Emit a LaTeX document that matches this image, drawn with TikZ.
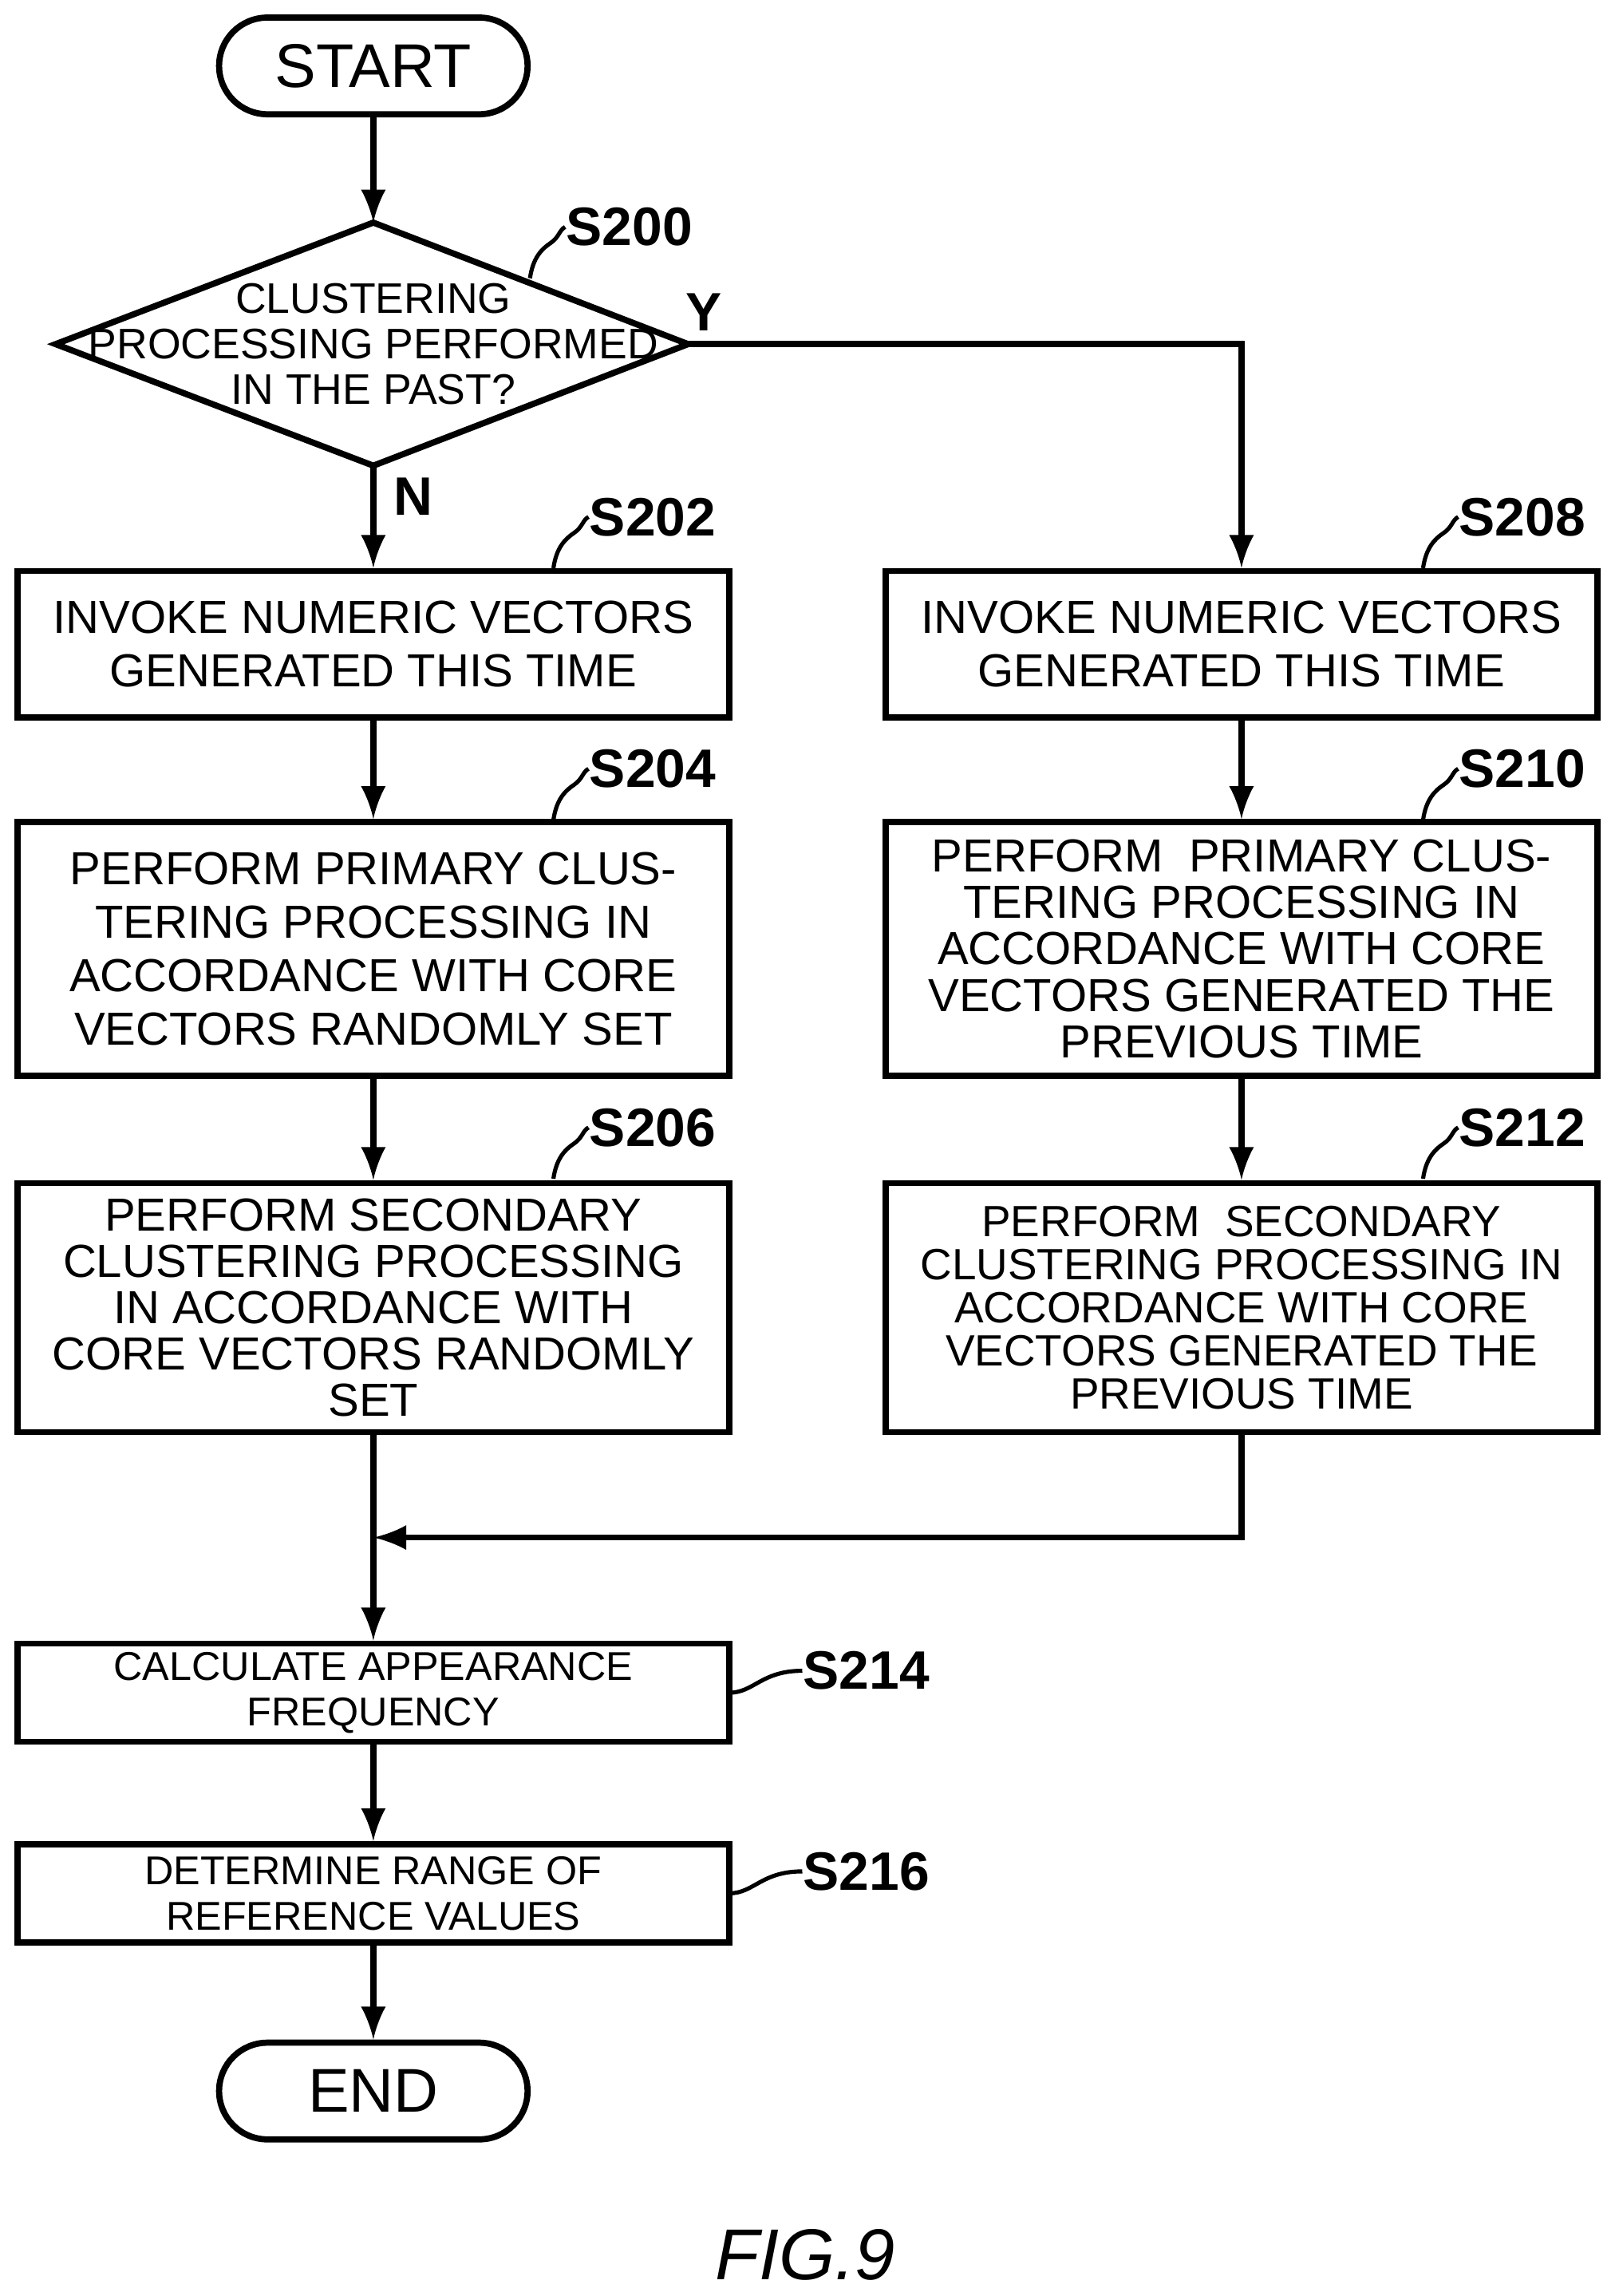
\documentclass[tikz,border=0pt]{standalone}
\usepackage{fontspec}
\setmainfont{Liberation Sans}
\usetikzlibrary{shapes.misc,calc}
\tikzset{
  proc/.style={draw,line width=1.2pt,rectangle,minimum width=4.86cm,align=center,inner sep=0pt,font=\fontsize{9}{10.4}\selectfont},
  term/.style={draw,line width=1.2pt,rounded rectangle,minimum width=2.34cm,minimum height=0.66cm,font=\fontsize{12}{14}\selectfont},
  arr/.style={->,>=latex,line width=1.2pt},
  lbl/.style={font=\bfseries\fontsize{10.5}{12}\selectfont,anchor=west,inner sep=0pt},
}
\newcommand{\squig}[3]{\draw[line width=0.8pt] (#1,#2) .. controls (#1+2,#2-14) and (#1+8,#2-20) .. (#1+14,#2-24) .. controls (#1+20,#2-28) and (#1+20,#2-33) .. (#3);}
\begin{document}
\begin{tikzpicture}[x=0.01cm,y=-0.01cm]
  \useasboundingbox (0,0) rectangle (1103,1568);
  \node[term] (start) at (255,45) {START};
  % decision
  \coordinate (dtop) at (255,152);
  \coordinate (dbot) at (255,318);
  \coordinate (dleft) at (38,235);
  \coordinate (dright) at (470,235);
  \draw[line width=1.2pt] (dtop) -- (dright) -- (dbot) -- (dleft) -- cycle;
  \node[align=center,inner sep=0pt,font=\fontsize{8.3}{8.8}\selectfont] (d200) at (255,235) {CLUSTERING\\PROCESSING PERFORMED\\IN THE PAST?};
  \node[proc,minimum height=1cm] (s202) at (255,440) {INVOKE NUMERIC VECTORS\\GENERATED THIS TIME};
  \node[proc,minimum height=1.73cm] (s204) at (255,648) {PERFORM PRIMARY CLUS-\\TERING PROCESSING IN\\ACCORDANCE WITH CORE\\VECTORS RANDOMLY SET};
  \node[proc,minimum height=1.7cm,font=\fontsize{9}{9}\selectfont] (s206) at (255,893) {PERFORM SECONDARY\\CLUSTERING PROCESSING\\IN ACCORDANCE WITH\\CORE VECTORS RANDOMLY\\SET};
  \node[proc,minimum height=1cm] (s208) at (848,440) {INVOKE NUMERIC VECTORS\\GENERATED THIS TIME};
  \node[proc,minimum height=1.73cm,font=\fontsize{9}{9}\selectfont] (s210) at (848,648) {PERFORM \ PRIMARY CLUS-\\TERING PROCESSING IN\\ACCORDANCE WITH CORE\\VECTORS GENERATED THE\\PREVIOUS TIME};
  \node[proc,minimum height=1.7cm,font=\fontsize{8.5}{8.4}\selectfont] (s212) at (848,893) {PERFORM \ SECONDARY\\CLUSTERING PROCESSING IN\\ACCORDANCE WITH CORE\\VECTORS GENERATED THE\\PREVIOUS TIME};
  \node[proc,minimum height=0.67cm,font=\fontsize{7.8}{8.8}\selectfont] (s214) at (255,1156) {CALCULATE APPEARANCE\\FREQUENCY};
  \node[proc,minimum height=0.67cm,font=\fontsize{7.8}{8.8}\selectfont] (s216) at (255,1293) {DETERMINE RANGE OF\\REFERENCE VALUES};
  \node[term] (end) at (255,1428) {END};
  \coordinate (merge) at (255,1050);
  % connectors
  \draw[arr] (start) -- (dtop);
  \draw[arr] (dbot) -- (s202) node[pos=0.3,right,font=\bfseries\fontsize{10.5}{12}\selectfont] {N};
  \draw[arr] (dright) -| (s208.north);
  \node[font=\bfseries\fontsize{10.5}{12}\selectfont] at (481,213) {Y};
  \draw[arr] (s202) -- (s204);
  \draw[arr] (s204) -- (s206);
  \draw[arr] (s208) -- (s210);
  \draw[arr] (s210) -- (s212);
  \draw[arr] (s212.south) |- (merge);
  \draw[arr] (s206) -- (s214);
  \draw[arr] (s214) -- (s216);
  \draw[arr] (s216) -- (end);
  % step labels
  \foreach \n/\x/\y in {200/362/190,202/378/388,204/378/560,206/378/805,208/972/388,210/972/560,212/972/805}{
    \node[lbl] (l\n) at (\x+24,\y-35) {S\n};
    \squig{\x}{\y}{l\n.west}
  }
  \foreach \n/\y in {214/1156,216/1293}{
    \node[lbl] (l\n) at (548,\y-15) {S\n};
    \draw[line width=0.8pt] (498,\y) .. controls (515,\y) and (520,\y-15) .. (l\n.west);
  }
  \node[font=\itshape\fontsize{14}{16}\selectfont] at (550,1540) {FIG.9};
\end{tikzpicture}
\end{document}
